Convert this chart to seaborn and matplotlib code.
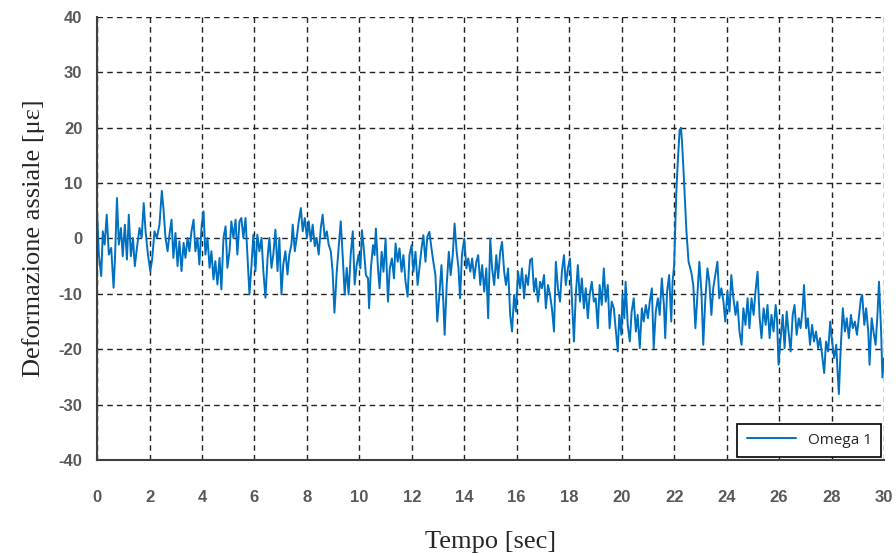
import pandas as pd
import matplotlib.pyplot as plt
import seaborn as sns
from matplotlib.ticker import MultipleLocator

# values (time in s, axial strain in microstrain)
tempo = [
    0.00, 0.07, 0.16, 0.22, 0.29, 0.37, 0.45, 0.54, 0.63, 0.68, 0.76, 0.83, 0.91, 0.98, 1.06, 1.14,
    1.21, 1.29, 1.37, 1.44, 1.52, 1.62, 1.70, 1.78, 1.85, 1.94, 2.03, 2.10, 2.19, 2.28, 2.38, 2.47,
    2.53, 2.61, 2.69, 2.76, 2.84, 2.91, 2.99, 3.07, 3.14, 3.22, 3.30, 3.37, 3.45, 3.52, 3.60, 3.68,
    3.75, 3.83, 3.90, 3.99, 4.06, 4.13, 4.21, 4.29, 4.36, 4.44, 4.51, 4.59, 4.67, 4.74, 4.82, 4.90,
    4.97, 5.05, 5.12, 5.20, 5.28, 5.35, 5.43, 5.50, 5.58, 5.66, 5.73, 5.81, 5.89, 5.96, 6.04, 6.11,
    6.19, 6.27, 6.34, 6.42, 6.50, 6.57, 6.65, 6.72, 6.80, 6.88, 6.95, 7.03, 7.10, 7.18, 7.26, 7.33,
    7.41, 7.46, 7.54, 7.61, 7.69, 7.77, 7.84, 7.92, 8.00, 8.07, 8.15, 8.22, 8.30, 8.37, 8.45, 8.53,
    8.60, 8.68, 8.76, 8.83, 8.91, 8.98, 9.05, 9.14, 9.21, 9.29, 9.37, 9.44, 9.52, 9.59, 9.67, 9.75,
    9.82, 9.90, 9.97,
    10.04, 10.10, 10.18, 10.25, 10.33, 10.37, 10.44, 10.52, 10.58, 10.63, 10.71, 10.77, 10.85, 10.92,
    11.00, 11.09, 11.16, 11.24, 11.32, 11.38, 11.46, 11.53, 11.61, 11.68, 11.76, 11.84, 11.91, 11.99,
    12.06, 12.14, 12.22, 12.29, 12.37, 12.44, 12.52, 12.59, 12.67, 12.75, 12.82, 12.90, 12.97, 13.05,
    13.13, 13.20, 13.25, 13.33, 13.41, 13.48, 13.56, 13.63, 13.71, 13.78, 13.84, 13.91, 14.00, 14.08,
    14.15, 14.23, 14.30, 14.38, 14.46, 14.53, 14.61, 14.68, 14.76, 14.84, 14.91, 14.99, 15.06, 15.14,
    15.22, 15.29, 15.37, 15.44, 15.52, 15.59, 15.67, 15.75, 15.82, 15.90, 15.97, 16.05, 16.13, 16.20,
    16.28, 16.35, 16.43, 16.51, 16.58, 16.66, 16.73, 16.81, 16.89, 16.96, 17.04, 17.11, 17.19, 17.27,
    17.34, 17.42, 17.49, 17.57, 17.65, 17.72, 17.80, 17.87, 17.95, 18.03, 18.10, 18.18, 18.25, 18.33,
    18.41, 18.48, 18.56, 18.63, 18.71, 18.78, 18.86, 18.94, 19.01, 19.09, 19.16, 19.24, 19.32, 19.39,
    19.47, 19.54, 19.62, 19.70, 19.77, 19.85, 19.91, 19.99,
    20.03, 20.10, 20.15, 20.23, 20.31, 20.38, 20.46, 20.54, 20.61, 20.69, 20.77, 20.84, 20.92, 21.00,
    21.07, 21.15, 21.22, 21.30, 21.38, 21.45, 21.53, 21.61, 21.66, 21.73, 21.81, 21.89, 21.94, 22.00,
    22.08, 22.14, 22.21, 22.26, 22.30, 22.35, 22.41, 22.47, 22.55, 22.65, 22.73, 22.81, 22.88, 22.96,
    23.04, 23.11, 23.19, 23.27, 23.34, 23.42, 23.49, 23.57, 23.65, 23.72, 23.80, 23.88, 23.95, 24.03,
    24.11, 24.18, 24.26, 24.34, 24.41, 24.49, 24.57, 24.64, 24.72, 24.80, 24.87, 24.95, 25.03, 25.10,
    25.18, 25.26, 25.33, 25.41, 25.49, 25.56, 25.64, 25.71, 25.79, 25.87, 25.92, 25.98, 26.06, 26.14,
    26.21, 26.29, 26.36, 26.44, 26.52, 26.59, 26.67, 26.75, 26.82, 26.90, 26.95, 27.03, 27.10, 27.18,
    27.26, 27.33, 27.41, 27.49, 27.56, 27.64, 27.72, 27.79, 27.87, 27.95, 28.02, 28.10, 28.18, 28.23,
    28.28, 28.35, 28.43, 28.51, 28.58, 28.66, 28.74, 28.81, 28.89, 28.97, 29.04, 29.12, 29.17, 29.25,
    29.32, 29.40, 29.45, 29.53, 29.60, 29.68, 29.75, 29.81, 29.89, 29.94, 30.00,
]
omega_1 = [
    4.9, -2.9, -6.8, 1.3, -1.1, 4.3, -2.9, -1.7, -8.9, -4.1, 7.3, -1.1, 1.9, -3.2, 2.5, -3.8,
    4.3, -3.2, 0.1, -5.0, -1.7, 1.9, 0.1, 6.4, 1.3, -2.9, -5.9, -3.8, 1.3, 0.1, 2.5, 8.6,
    5.5, 0.1, -2.3, 0.7, 3.4, -3.5, 1.0, -5.0, -0.5, -5.9, -0.8, -3.5, 0.1, -2.3, 1.3, 3.4,
    -2.3, 0.1, -4.7, 2.5, 4.9, -2.9, 0.1, -5.3, -2.3, -7.4, -4.1, -8.3, -3.5, -9.2, 0.1, 2.2,
    -5.3, -2.3, 3.1, 0.1, 3.4, -2.9, 3.1, 3.7, 0.1, 3.7, -2.9, -10.1, -4.7, 0.7, -5.9, 0.7,
    -2.3, 0.1, -5.9, -10.7, -3.5, 0.1, -5.3, -2.9, 1.6, -5.9, 0.1, -10.1, -4.7, -2.3, -6.5, -2.9,
    -1.1, 2.5, -2.3, 0.1, 3.1, 5.5, 1.3, 3.7, 0.1, 3.1, -0.5, 2.5, -1.4, 0.1, -2.9, 1.9,
    4.3, 0.1, 1.3, -1.1, -2.3, -5.9, -13.4, -5.9, -1.7, 3.1, -3.5, -10.1, -5.3, -10.1, -2.9, 1.3,
    -8.3, -4.7, -2.9,
    -5.4, 1.5, -2.4, -6.6, -7.2, -12.6, -5.4, -1.2, -3.0, 1.8, -5.4, -9.0, -2.4, -6.0,
    0.0, -11.4, -5.4, -3.6, -7.2, -0.9, -4.2, -1.8, -6.0, -3.0, -7.8, -10.5, -3.0, -1.2,
    -6.0, -2.4, -8.4, -5.4, -1.8, 0.6, -4.2, 0.3, 1.2, -1.8, -4.2, -6.6, -15.0, -10.2,
    -4.8, -11.4, -17.4, -8.4, -2.4, -6.6, -3.0, 2.7, -2.4, -5.4, -10.8, -3.0, 0.0, -5.4,
    -3.6, -6.0, -3.6, -7.2, -4.2, -3.0, -8.4, -4.8, -9.6, -5.4, -14.4, 0.0, -5.4, -8.4,
    -3.0, -7.2, -2.4, -0.6, -6.0, -8.4, -5.4, -13.8, -16.8, -10.2, -13.2, -6.0, -9.0, -5.4,
    -10.8, -6.6, -8.4, -3.9, -3.6, -9.6, -7.2, -11.4, -7.8, -9.0, -6.6, -12.6, -8.4, -10.2,
    -12.6, -16.8, -4.2, -9.0, -11.4, -6.0, -3.0, -8.4, -5.4, -3.6, -10.8, -18.6, -10.2, -4.8,
    -11.4, -7.2, -12.6, -9.0, -14.4, -10.2, -7.8, -11.4, -10.8, -16.2, -8.4, -12.0, -5.4, -11.4,
    -8.4, -16.2, -11.4, -12.6, -16.2, -20.4, -13.8, -17.4,
    -10.2, -14.4, -7.8, -15.6, -18.6, -13.2, -10.8, -16.8, -13.8, -19.8, -12.6, -15.0, -12.0, -14.4,
    -11.4, -9.0, -19.8, -13.2, -10.8, -13.8, -7.2, -12.0, -18.0, -9.6, -6.6, -15.0, -7.8, -4.8,
    8.0, 14.0, 19.6, 20.0, 17.5, 13.0, 7.0, 1.2, -4.2, -6.0, -8.4, -16.2, -10.8, -4.2,
    -9.6, -19.2, -10.8, -5.4, -7.8, -13.8, -9.0, -6.6, -4.2, -10.8, -9.0, -11.4, -15.0, -9.6,
    -13.2, -6.6, -10.8, -13.8, -11.4, -16.8, -19.2, -12.6, -15.6, -10.8, -16.2, -10.8, -13.8, -9.6,
    -6.0, -14.4, -18.0, -12.6, -15.6, -12.0, -18.0, -13.8, -16.8, -12.0, -14.4, -22.8, -18.0, -13.8,
    -19.8, -13.2, -16.8, -20.4, -13.8, -12.0, -17.4, -14.4, -16.2, -12.6, -8.4, -16.2, -14.4, -19.2,
    -15.6, -18.6, -16.8, -19.8, -18.0, -21.0, -24.3, -18.6, -20.4, -15.0, -18.6, -21.6, -19.2, -24.0,
    -28.1, -19.8, -12.6, -16.8, -14.4, -18.0, -13.8, -16.2, -15.0, -17.4, -14.4, -10.8, -10.2, -15.6,
    -12.6, -16.8, -22.8, -14.4, -16.8, -19.2, -13.8, -7.8, -16.8, -25.1, -21.6,
]

x_ticks = list(range(0, 31, 2))
y_ticks = list(range(-40, 41, 10))

df = pd.DataFrame({'Tempo': tempo, 'Omega 1': omega_1})

sns.set_style('white')
plt.rcParams['font.family'] = ['Liberation Sans', 'DejaVu Sans']
plt.rcParams['axes.unicode_minus'] = False

fig = plt.figure(figsize=(8.96, 5.56), dpi=100)
ax = fig.add_axes([0.1083, 0.1727, 0.8783, 0.7967])

sns.lineplot(data=df, x='Tempo', y='Omega 1', color='#0070C0', linewidth=1.4,
             label='Omega 1', ax=ax, sort=False)

ax.set_xlim(0, 30)
ax.set_ylim(-40, 40)
ax.set_xticks(x_ticks)
ax.set_yticks(y_ticks)
ax.xaxis.set_minor_locator(MultipleLocator(1))
ax.yaxis.set_minor_locator(MultipleLocator(5))

ax.grid(True, which='major', color='#222222', linestyle=(0, (4, 3)), linewidth=1.0)
ax.set_axisbelow(True)

for side in ['top', 'right']:
    ax.spines[side].set_visible(False)
for side in ['left', 'bottom']:
    ax.spines[side].set_color('#404040')
    ax.spines[side].set_linewidth(1.5)

ax.tick_params(which='major', direction='inout', length=9, width=1.2, color='#404040')
ax.tick_params(which='minor', direction='out', length=5, width=1.2, color='#404040')
ax.tick_params(axis='x', which='major', pad=17)
ax.tick_params(axis='y', which='major', pad=6)

for lab in ax.get_xticklabels():
    lab.set_family(['Liberation Sans Narrow', 'Liberation Sans'])
    lab.set_fontsize(12)
    lab.set_fontweight('bold')
    lab.set_color('#595959')
for lab in ax.get_yticklabels():
    lab.set_fontsize(12)
    lab.set_fontweight('bold')
    lab.set_color('#595959')

ax.set_xlabel('Tempo [sec]', family='Liberation Serif', fontsize=19, labelpad=19)
ax.set_ylabel('Deformazione assiale [με]', family='Liberation Serif', fontsize=19, labelpad=10)

leg = ax.legend(loc='lower right', fancybox=False, framealpha=1, edgecolor='black',
                borderaxespad=0.2, prop={'family': 'Open Sans', 'size': 11},
                handlelength=3.2, borderpad=0.6)
leg.get_frame().set_linewidth(1.2)

fig.savefig('out.png', dpi=100)
